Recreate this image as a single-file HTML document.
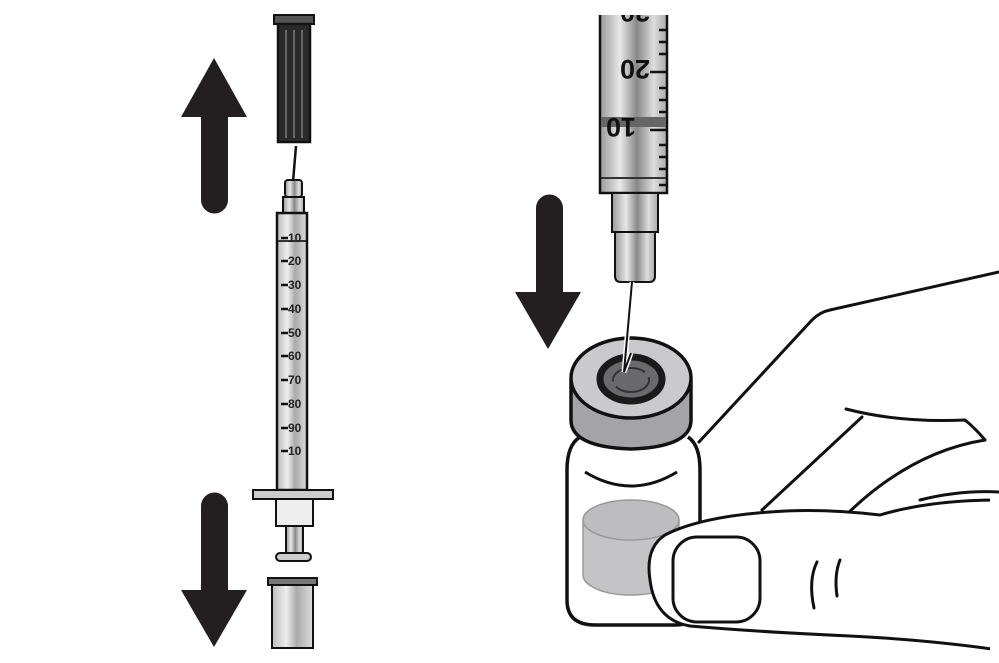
<!DOCTYPE html>
<html><head><meta charset="utf-8"><style>html,body{margin:0;padding:0;background:#fff}svg{display:block}</style></head>
<body>
<svg width="999" height="663" viewBox="0 0 999 663" xmlns="http://www.w3.org/2000/svg" font-family="Liberation Sans, sans-serif">
<defs>
<linearGradient id="bar" x1="0" x2="1"><stop offset="0" stop-color="#bbb"/><stop offset=".35" stop-color="#eee"/><stop offset=".6" stop-color="#aaa"/><stop offset="1" stop-color="#ddd"/></linearGradient>
<linearGradient id="bar2" x1="0" x2="1"><stop offset="0" stop-color="#999"/><stop offset=".3" stop-color="#e8e8e8"/><stop offset=".55" stop-color="#888"/><stop offset=".8" stop-color="#ddd"/><stop offset="1" stop-color="#aaa"/></linearGradient>
<clipPath id="top"><rect x="0" y="15" width="999" height="700"/></clipPath>
</defs>
<!-- left arrows -->
<path d="M214 58 L247 117 L228 117 L228 200 A13.5 13.5 0 0 1 201 200 L201 117 L181 117 Z" fill="#231f20"/>
<path d="M214 647 L247 590 L228 590 L228 506 A13.5 13.5 0 0 0 201 506 L201 590 L181 590 Z" fill="#231f20"/>
<!-- left cap -->
<rect x="274" y="15" width="40" height="9" fill="#555" stroke="#111" stroke-width="2"/>
<rect x="278" y="24" width="32" height="118" fill="#2a2a2a" stroke="#111" stroke-width="2.5"/>
<g stroke="#666" stroke-width="2"><line x1="286" y1="30" x2="286" y2="138"/><line x1="294" y1="30" x2="294" y2="138"/><line x1="302" y1="30" x2="302" y2="138"/></g>
<path d="M296 146 L293 182" stroke="#111" stroke-width="2.5"/>
<!-- hub -->
<rect x="285" y="180" width="17" height="17" rx="3" fill="url(#bar2)" stroke="#111" stroke-width="2"/>
<rect x="283" y="197" width="21" height="16" fill="url(#bar2)" stroke="#111" stroke-width="2"/>
<!-- barrel -->
<rect x="277" y="213" width="30" height="277" fill="url(#bar)" stroke="#111" stroke-width="2.5"/>
<line x1="278" y1="241" x2="306" y2="241" stroke="#333" stroke-width="2"/>
<g font-size="12" font-weight="bold" fill="#222">
<text x="288" y="242">10</text><text x="288" y="265">20</text><text x="288" y="289">30</text><text x="288" y="313">40</text><text x="288" y="337">50</text><text x="288" y="360">60</text><text x="288" y="384">70</text><text x="288" y="408">80</text><text x="288" y="432">90</text><text x="288" y="455">10</text></g>
<g stroke="#111" stroke-width="2.5"><line x1="281" y1="238" x2="288" y2="238"/><line x1="281" y1="261" x2="288" y2="261"/><line x1="281" y1="285" x2="288" y2="285"/><line x1="281" y1="309" x2="288" y2="309"/><line x1="281" y1="333" x2="288" y2="333"/><line x1="281" y1="356" x2="288" y2="356"/><line x1="281" y1="380" x2="288" y2="380"/><line x1="281" y1="404" x2="288" y2="404"/><line x1="281" y1="428" x2="288" y2="428"/><line x1="281" y1="451" x2="288" y2="451"/></g>
<rect x="253" y="490" width="80" height="9" fill="#ccc" stroke="#111" stroke-width="2"/>
<rect x="276" y="499" width="37" height="27" fill="#eee" stroke="#111" stroke-width="2"/>
<rect x="286" y="526" width="17" height="28" fill="url(#bar2)" stroke="#111" stroke-width="2"/>
<rect x="276" y="553" width="35" height="8" rx="4" fill="#ccc" stroke="#111" stroke-width="2"/>
<!-- bottom cap -->
<rect x="268" y="578" width="49" height="7" fill="#777" stroke="#111" stroke-width="2"/>
<rect x="272" y="585" width="41" height="63" fill="url(#bar)" stroke="#111" stroke-width="2"/>
<!-- right arrow -->
<path d="M548 349 L581 292 L563 292 L563 208 A13.5 13.5 0 0 0 536 208 L536 292 L515 292 Z" fill="#231f20"/>
<!-- right syringe -->
<g clip-path="url(#top)">
<rect x="600" y="0" width="67" height="193" fill="url(#bar2)" stroke="#111" stroke-width="2.5"/>
<rect x="601" y="117" width="65" height="10" fill="#666"/>
<line x1="601" y1="178" x2="666" y2="178" stroke="#333" stroke-width="2"/>
<g stroke="#111" stroke-width="2.5"><line x1="650" y1="72" x2="667" y2="72"/><line x1="650" y1="130" x2="667" y2="130"/>
<line x1="659" y1="30" x2="667" y2="30"/><line x1="659" y1="42" x2="667" y2="42"/><line x1="659" y1="54" x2="667" y2="54"/><line x1="659" y1="88" x2="667" y2="88"/><line x1="659" y1="100" x2="667" y2="100"/><line x1="659" y1="112" x2="667" y2="112"/><line x1="659" y1="145" x2="667" y2="145"/><line x1="659" y1="157" x2="667" y2="157"/><line x1="659" y1="169" x2="667" y2="169"/><line x1="659" y1="185" x2="667" y2="185"/></g>
<g font-size="27" font-weight="bold" fill="#111">
<text transform="translate(650,60) rotate(180)">20</text>
<text transform="translate(636,118) rotate(180)">10</text>
<text transform="translate(650,3) rotate(180)">30</text></g>
</g>
<rect x="612" y="193" width="46" height="39" fill="url(#bar2)" stroke="#111" stroke-width="2"/>
<path d="M615 232 H655 V276 Q655 282 649 282 H621 Q615 282 615 276 Z" fill="url(#bar2)" stroke="#111" stroke-width="2"/>
<!-- hand -->
<g fill="none" stroke="#111" stroke-width="3" stroke-linecap="round">
<path d="M699 442 L812 320 Q820 312 830 310 L999 272"/>
<path d="M846 409 Q900 423 965 420 Q975 428 985 440"/>
<path d="M762 510 L862 417"/>
<path d="M845 516 Q910 452 985 440"/>
<path d="M920 500 Q960 490 999 492"/>
</g>
<!-- vial body -->
<path d="M580 437 Q567 445 567 470 V600 Q567 625 595 625 H675 Q700 625 700 600 V470 Q700 445 688 437" fill="#fff" stroke="#111" stroke-width="3.5"/>
<path d="M585 472 Q631 500 677 472" fill="none" stroke="#111" stroke-width="3"/>
<path d="M583 520 V575 A48 20 0 0 0 679 575 V520" fill="#c4c4c6" stroke="#999" stroke-width="1.5"/>
<ellipse cx="631" cy="520" rx="48" ry="20" fill="#bdbdbf" stroke="#999" stroke-width="1.5"/>
<!-- cap -->
<path d="M571 380 V420 Q571 447 631 449 Q691 447 691 420 V380" fill="#a4a4a6" stroke="#111" stroke-width="3.5"/>
<ellipse cx="631" cy="378" rx="60" ry="40" fill="#cacacc" stroke="#111" stroke-width="3.5"/>
<ellipse cx="631" cy="379" rx="31" ry="22" fill="#6a6a6c" stroke="#1a1a1a" stroke-width="7"/>
<ellipse cx="631" cy="380" rx="18" ry="12" fill="none" stroke="#333" stroke-width="2" stroke-dasharray="40 6"/>
<path d="M632 282 L624 372 L631 353" fill="none" stroke="#fff" stroke-width="5"/>
<path d="M632 282 L624 372 L631 353" fill="none" stroke="#111" stroke-width="2"/>
<!-- thumb -->
<path d="M999 500 Q930 500 880 515 Q820 508 770 512 Q700 517 665 535 Q645 548 650 580 Q655 620 690 626 Q760 632 850 636 Q930 640 999 650 Z" fill="#fff" stroke="#111" stroke-width="3"/>
<rect x="673" y="537" width="87" height="85" rx="24" fill="#fff" stroke="#111" stroke-width="3"/>
<path d="M817 562 Q808 580 814 608 M840 560 Q834 575 837 596" fill="none" stroke="#111" stroke-width="3" stroke-linecap="round"/>
<rect x="990" y="495" width="9" height="160" fill="#fff"/>
</svg>
</body></html>
